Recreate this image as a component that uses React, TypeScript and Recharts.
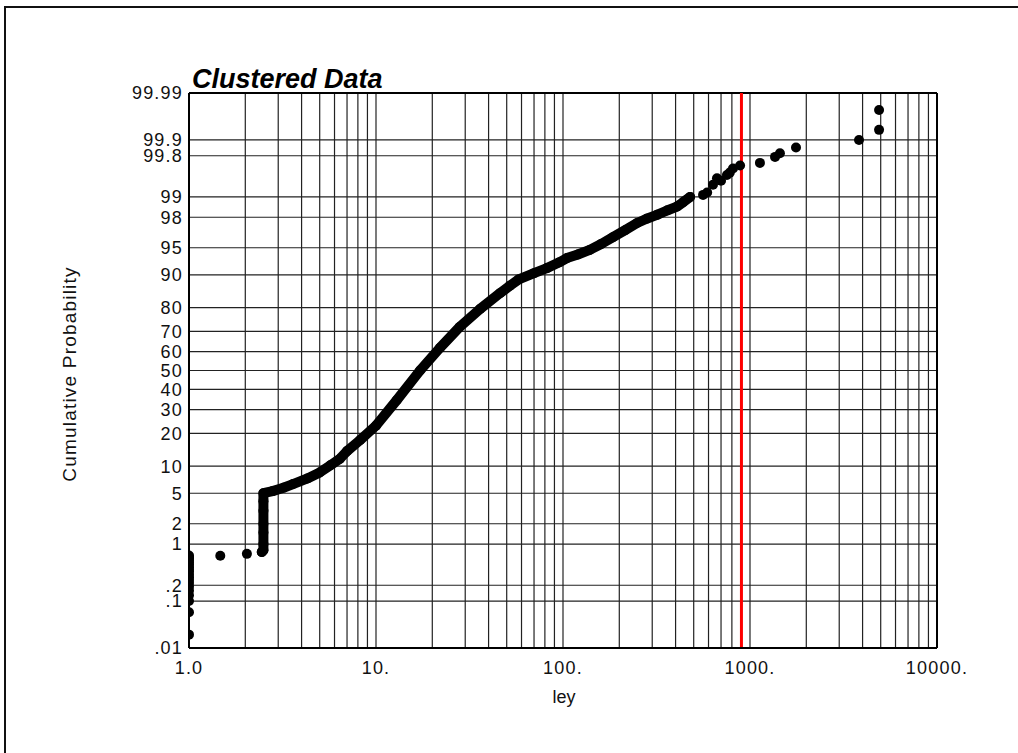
import { ScatterChart, Scatter, XAxis, YAxis, ReferenceLine } from 'recharts';

// left cluster at x = 1.0 and the lone points before the jump
const lowX = [1, 1, 1, 1, 1, 1, 1, 1, 1, 1, 1, 1, 1, 1, 1, 1, 1, 1, 1, 1.47, 2.04];
const lowP = [0.02, 0.06, 0.1, 0.13, 0.16, 0.19, 0.22, 0.25, 0.28, 0.31, 0.35, 0.38, 0.42, 0.46, 0.5, 0.54, 0.58, 0.62, 0.66, 0.65, 0.7];

// dense body of the curve (drawn as overlapping dots)
const denseX = [2.45, 2.5, 2.5, 2.5, 2.5, 2.5, 2.5, 2.5, 2.8, 3.2, 3.6, 4.3, 5.0, 5.7, 6.4, 7.0, 8.2, 10, 12.9, 17.2, 22, 28, 36, 46, 52, 58, 70, 82, 95, 105, 120, 139, 160, 185, 215, 249, 280, 318, 360, 407, 440, 478];
const denseP = [0.75, 0.8, 1, 1.5, 2, 3, 4, 5, 5.3, 5.8, 6.4, 7.4, 8.6, 10.2, 11.8, 14, 17.5, 23, 34.5, 50, 62, 72, 79.5, 85, 87.2, 88.9, 90.4, 91.5, 92.6, 93.4, 94, 94.7, 95.5, 96.3, 97, 97.6, 97.9, 98.15, 98.4, 98.6, 98.8, 99.0];

// upper tail
const highX = [561, 590, 634, 666, 700, 753, 780, 811, 885, 1130, 1361, 1446, 1762, 3828, 4900, 4900];
const highP = [99.07, 99.15, 99.36, 99.5, 99.45, 99.56, 99.6, 99.66, 99.7, 99.73, 99.79, 99.82, 99.86, 99.9, 99.937, 99.976];

const xTicks = [1, 10, 100, 1000, 10000];
const xTickLabels = ['1.0', '10.', '100.', '1000.', '10000.'];

const yTickP = [0.01, 0.1, 0.2, 1, 2, 5, 10, 20, 30, 40, 50, 60, 70, 80, 90, 95, 98, 99, 99.8, 99.9, 99.99];
const yTickLabels = ['.01', '.1', '.2', '1', '2', '5', '10', '20', '30', '40', '50', '60', '70', '80', '90', '95', '98', '99', '99.8', '99.9', '99.99'];

const limitX = 900;

// inverse normal cdf (Acklam) -> probability axis
function probit(p: number): number {
  const a = [-39.69683028665376, 220.9460984245205, -275.9285104469687, 138.357751867269, -30.66479806614716, 2.506628277459239];
  const b = [-54.47609879822406, 161.5858368580409, -155.6989798598866, 66.80131188771972, -13.28068155288572];
  const c = [-0.007784894002430293, -0.3223964580411365, -2.400758277161838, -2.549671010908485, 4.374664141464968, 2.938163982698783];
  const d = [0.007784695709041462, 0.3224671290700398, 2.445134137142996, 3.754408661907416];
  const lo = 0.02425;
  if (p < lo) {
    const q = Math.sqrt(-2 * Math.log(p));
    return (((((c[0] * q + c[1]) * q + c[2]) * q + c[3]) * q + c[4]) * q + c[5]) / ((((d[0] * q + d[1]) * q + d[2]) * q + d[3]) * q + 1);
  }
  if (p <= 1 - lo) {
    const q = p - 0.5;
    const r = q * q;
    return ((((((a[0] * r + a[1]) * r + a[2]) * r + a[3]) * r + a[4]) * r + a[5]) * q) / (((((b[0] * r + b[1]) * r + b[2]) * r + b[3]) * r + b[4]) * r + 1);
  }
  const q = Math.sqrt(-2 * Math.log(1 - p));
  return -(((((c[0] * q + c[1]) * q + c[2]) * q + c[3]) * q + c[4]) * q + c[5]) / ((((d[0] * q + d[1]) * q + d[2]) * q + d[3]) * q + 1);
}

const rows = (xs: number[], ps: number[]) => xs.map((x, i) => ({ x, z: probit(ps[i] / 100) }));

const lowData = rows(lowX, lowP);
const denseData = rows(denseX, denseP);
const highData = rows(highX, highP);

const yMin = probit(0.0001);
const yMax = probit(0.9999);
const yTicks = yTickP.map((p) => probit(p / 100));

const xGrid: number[] = [];
[1, 10, 100, 1000].forEach((dec) => {
  for (let m = 2; m <= 10; m++) xGrid.push(dec * m);
});
xGrid.pop();

const fontFamily = '"Liberation Sans", Arial, sans-serif';
const tickStyle = { fontSize: 18, fill: '#111', fontFamily, letterSpacing: 1.2 };

const dot = (p: any) => <circle cx={p.cx} cy={p.cy} r={5} fill="#000" />;

export default function App() {
  return (
    <div style={{ position: 'absolute', left: 0, top: 0, width: 1018, height: 753, background: '#fff', overflow: 'hidden' }}>
      <div style={{ position: 'absolute', left: 4, top: 6, width: 1030, height: 760, borderLeft: '2px solid #111', borderTop: '2px solid #111' }} />
      <ScatterChart width={1018} height={753} margin={{ top: 93, right: 81, bottom: 75, left: 129 }} style={{ position: 'absolute', left: 0, top: 0 }}>
        <XAxis
          dataKey="x"
          type="number"
          scale="log"
          domain={[1, 10000]}
          allowDataOverflow
          ticks={xTicks}
          interval={0}
          tickFormatter={(v: number) => xTickLabels[xTicks.indexOf(v)] ?? ''}
          axisLine={{ stroke: '#000', strokeWidth: 2 }}
          tickLine={false}
          tickSize={0}
          tickMargin={13}
          height={30}
          tick={tickStyle}
        />
        <YAxis
          dataKey="z"
          type="number"
          domain={[yMin, yMax]}
          allowDataOverflow
          ticks={yTicks}
          interval={0}
          tickFormatter={(v: number) => {
            let best = 0;
            yTicks.forEach((t, i) => {
              if (Math.abs(t - v) < Math.abs(yTicks[best] - v)) best = i;
            });
            return yTickLabels[best];
          }}
          axisLine={{ stroke: '#000', strokeWidth: 2 }}
          tickLine={false}
          tickSize={0}
          tickMargin={6}
          width={60}
          tick={tickStyle}
        />
        {xGrid.map((v) => (
          <ReferenceLine key={'vx' + v} x={v} stroke="#222" strokeWidth={1.2} />
        ))}
        {yTicks.slice(1, -1).map((v, i) => (
          <ReferenceLine key={'hy' + i} y={v} stroke="#222" strokeWidth={1.2} />
        ))}
        <ReferenceLine x={10000} stroke="#000" strokeWidth={2} />
        <ReferenceLine y={yMax} stroke="#000" strokeWidth={2} />
        <ReferenceLine x={limitX} stroke="#ff0000" strokeWidth={3} />
        <Scatter data={lowData} shape={dot} isAnimationActive={false} />
        <Scatter
          data={denseData}
          shape={dot}
          line={{ stroke: '#000', strokeWidth: 10, strokeLinecap: 'round', strokeLinejoin: 'round' }}
          isAnimationActive={false}
        />
        <Scatter data={highData} shape={dot} isAnimationActive={false} />
      </ScatterChart>
      <svg width={1018} height={753} style={{ position: 'absolute', left: 0, top: 0, pointerEvents: 'none' }}>
        <text x={192} y={88} fontFamily={fontFamily} fontSize={27} fontWeight="bold" fontStyle="italic" fill="#000">
          Clustered Data
        </text>
        <text transform="translate(76,374) rotate(-90)" textAnchor="middle" fontFamily={fontFamily} fontSize={19} letterSpacing={1.2} fill="#111">
          Cumulative Probability
        </text>
        <text x={564} y={703} textAnchor="middle" fontFamily={fontFamily} fontSize={18} fill="#111">
          ley
        </text>
      </svg>
    </div>
  );
}
